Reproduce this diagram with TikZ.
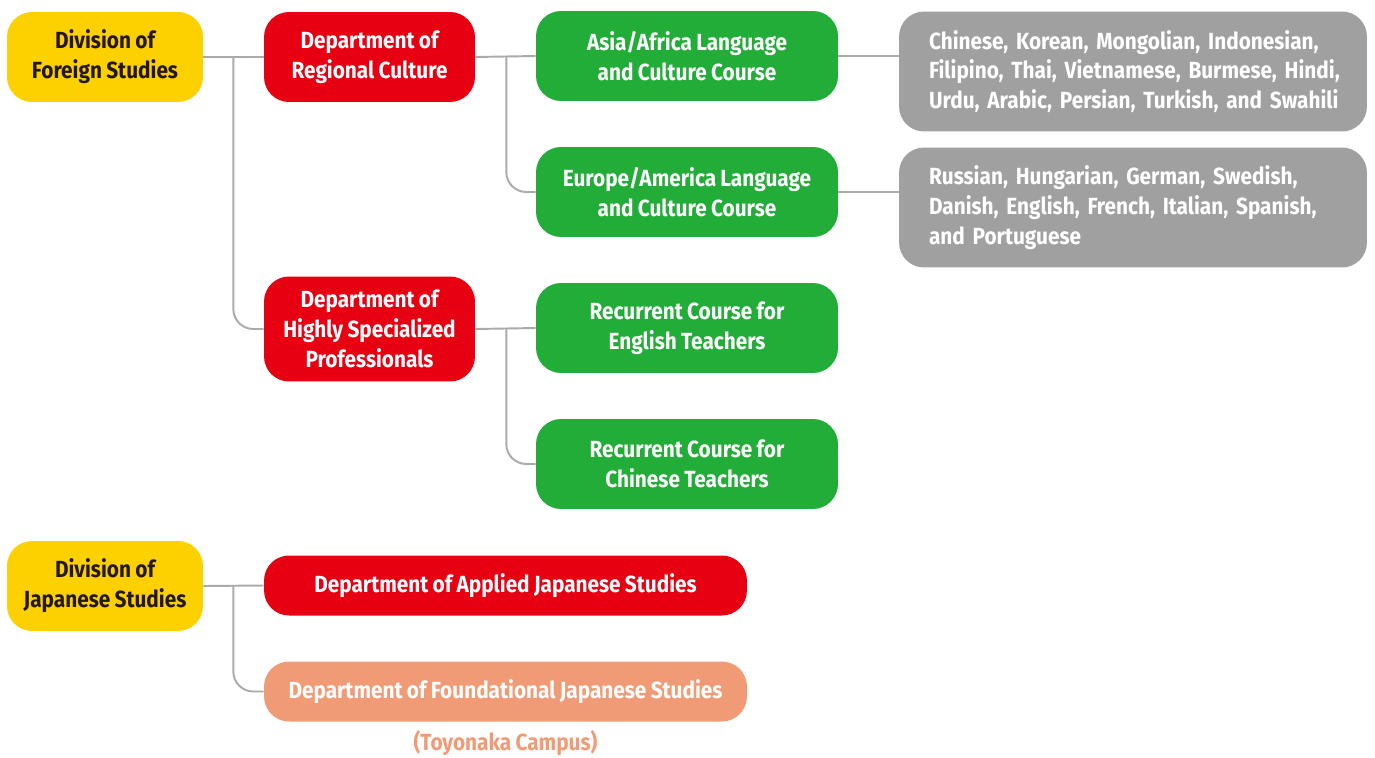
\documentclass[tikz,border=0pt]{standalone}
\usepackage{fontspec}
\setmainfont{Fira Sans}[FakeStretch=0.89,WordSpace=0.88]
\definecolor{divyellow}{HTML}{FDD000}
\definecolor{divtext}{HTML}{231815}
\definecolor{deptred}{HTML}{E60012}
\definecolor{coursegreen}{HTML}{22AC38}
\definecolor{langgray}{HTML}{A0A0A0}
\definecolor{campussalmon}{HTML}{F19B76}
\definecolor{linegray}{HTML}{AAAAAA}

\begin{document}
\begin{tikzpicture}[x=0.02cm,y=-0.02cm,font=\bfseries\fontsize{13.3}{17}\selectfont,
	box/.style={rounded corners=0.5cm,align=center,inner sep=0pt,minimum height=1.8cm,text=white},
	div node/.style={box,fill=divyellow,text=divtext,minimum width=3.92cm},
	dept node/.style={box,fill=deptred,minimum width=4.22cm},
	course node/.style={box,fill=coursegreen,minimum width=6.04cm},
	lang node/.style={box,fill=langgray,minimum height=2.4cm,text width=8.16cm,inner xsep=0.6cm,align=left},
	wide node/.style={box,minimum width=9.66cm,minimum height=1.2cm},
	link/.style={draw=linegray,line width=1.1pt}]

	\useasboundingbox (0,0) rectangle (1375,757);

	%divisions
	\node[div node] (fs) at (105,57) {Division of\\Foreign Studies};
	\node[div node] (js) at (105,586) {Division of\\Japanese Studies};

	%departments
	\node[dept node] (rc) at (369.5,57) {Department of\\Regional Culture};
	\node[dept node,minimum height=2.1cm] (hs) at (369.5,329) {Department of\\Highly Specialized\\Professionals};
	\node[wide node,fill=deptred] (aj) at (505.5,585.5) {Department of Applied Japanese Studies};
	\node[wide node,fill=campussalmon] (fj) at (505.5,691.5) {Department of Foundational Japanese Studies};
	\node[text=campussalmon] (tc) at (505.5,743) {(Toyonaka Campus)};

	%courses
	\node[course node] (aa) at (687,56) {Asia/Africa Language\\and Culture Course};
	\node[course node] (ea) at (687,192) {Europe/America Language\\and Culture Course};
	\node[course node] (et) at (687,328) {Recurrent Course for\\English Teachers};
	\node[course node] (ct) at (687,464) {Recurrent Course for\\Chinese Teachers};

	%languages
	\node[lang node] (al) at (1133,71.5) {\mbox{Chinese, Korean, Mongolian, Indonesian,}\\\mbox{Filipino, Thai, Vietnamese, Burmese, Hindi,}\\\mbox{Urdu, Arabic, Persian, Turkish, and Swahili}};
	\node[lang node] (el) at (1133,207.5) {\mbox{Russian, Hungarian, German, Swedish,}\\\mbox{Danish, English, French, Italian, Spanish,}\\\mbox{and Portuguese}};

	%links
	\draw[link] (fs.east) -- (rc.west);
	\draw[link,rounded corners=0.4cm] (fs.east) ++(30,0) |- (hs.west);
	\draw[link] (rc.east) -- (aa.west);
	\draw[link,rounded corners=0.4cm] (rc.east) ++(31,0) |- (ea.west);
	\draw[link] (hs.east) -- (et.west);
	\draw[link,rounded corners=0.4cm] (hs.east) ++(31,0) |- (ct.west);
	\draw[link] (js.east) -- (aj.west);
	\draw[link,rounded corners=0.4cm] (js.east) ++(30,0) |- (fj.west);
	\draw[link] (aa.east) -- (aa.east -| al.west);
	\draw[link] (ea.east) -- (ea.east -| el.west);

\end{tikzpicture}
\end{document}
